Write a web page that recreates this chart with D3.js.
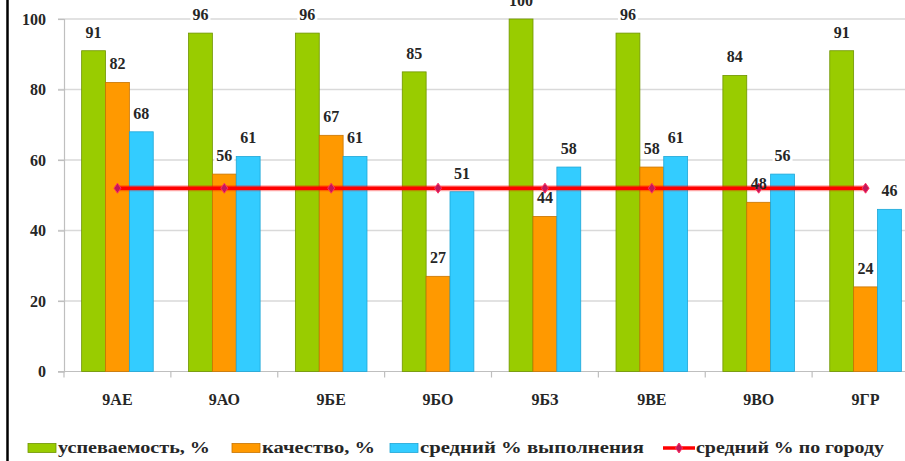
<!DOCTYPE html>
<html><head><meta charset="utf-8">
<script src="https://cdn.jsdelivr.net/npm/d3@7/dist/d3.min.js"></script>
<style>
html,body{margin:0;padding:0;background:#fff;}
svg{display:block;}
svg text{font-family:"Liberation Serif","Times New Roman","DejaVu Serif",serif;font-weight:bold;fill:#262626;}
</style></head>
<body>
<svg id="chart" width="905" height="461"></svg>
<script>
const categories = ["9АЕ","9АО","9БЕ","9БО","9БЗ","9ВЕ","9ВО","9ГР"];
const seriesNames = ["успеваемость, %","качество, %","средний % выполнения","средний % по городу"];
const uspevaemost = [91,96,96,85,100,96,84,91];
const kachestvo = [82,56,67,27,44,58,48,24];
const vypolnenie = [68,61,61,51,58,61,56,46];
const gorod = [52,52,52,52,52,52,52,52];
const yTicks = [0,20,40,60,80,100];

const colors = ["#99cc00","#ff9900","#33ccff","#ff0000"];
const strokes = ["#6f9400","#c87400","#1ea6d6"];
const FONT = "'Liberation Serif','Times New Roman','DejaVu Serif',serif";

const svg = d3.select("#chart");
const W = 905, H = 461;
svg.append("rect").attr("width",W).attr("height",H).attr("fill","#fff");

const x0 = d3.scaleBand().domain(categories).range([64, 919]).paddingInner(0.33).paddingOuter(0.165);
const barSeries = [uspevaemost, kachestvo, vypolnenie];
const x1 = d3.scaleBand().domain([0,1,2]).range([0, x0.bandwidth()]);
const y = d3.scaleLinear().domain([0,100]).range([371.5, 19]);
const step = x0.step();

// gridlines
svg.append("g").selectAll("line").data(yTicks.filter(t=>t>0)).join("line")
  .attr("x1",58).attr("x2",919).attr("y1",d=>y(d)).attr("y2",d=>y(d))
  .attr("stroke","#d9d9d9").attr("stroke-width",1.5);

// y axis
const yAxis = d3.axisLeft(y).tickValues(yTicks).tickSize(6).tickPadding(12).tickFormat(d3.format("d"));
const ya = svg.append("g").attr("transform","translate(64,0)").call(yAxis)
  .attr("font-family",FONT).attr("font-size",16);
ya.select(".domain").attr("stroke","#bfbfbf").attr("stroke-width",1.2);
ya.selectAll(".tick line").attr("stroke","#bfbfbf").attr("stroke-width",1.2);
ya.selectAll(".tick text").attr("fill","#262626").attr("font-weight","bold");

// x axis
const xAxis = d3.axisBottom(x0).tickSize(0).tickPadding(22);
const xa = svg.append("g").attr("transform",`translate(0,${y(0)})`).call(xAxis)
  .attr("font-family",FONT).attr("font-size",16);
xa.select(".domain").attr("stroke","#bfbfbf").attr("stroke-width",1.2).attr("d","M58,0H919");
xa.selectAll(".tick text").attr("fill","#262626").attr("font-weight","bold");
svg.append("g").selectAll("line").data(d3.range(categories.length+1)).join("line")
  .attr("x1",i=>64+i*step).attr("x2",i=>64+i*step)
  .attr("y1",y(0)).attr("y2",y(0)+6).attr("stroke","#bfbfbf").attr("stroke-width",1.2);

// bars
barSeries.forEach((vals,si)=>{
  svg.append("g").selectAll("rect").data(vals).join("rect")
    .attr("x",(d,i)=>x0(categories[i])+x1(si))
    .attr("width",x1.bandwidth())
    .attr("y",d=>y(d)).attr("height",d=>y(0)-y(d))
    .attr("fill",colors[si]).attr("stroke",strokes[si]).attr("stroke-width",0.8);
});

// label backgrounds
const labels = [];
barSeries.forEach((vals,si)=>{
  vals.forEach((d,i)=>{
    labels.push({v:d, cx:x0(categories[i])+x1(si)+x1.bandwidth()/2, cy:y(d)-19});
  });
});
svg.append("g").selectAll("rect").data(labels).join("rect")
  .attr("x",d=>d.cx-10).attr("y",d=>d.cy-8).attr("width",20).attr("height",16)
  .attr("fill","#fff");

// city line
const cx = (d,i)=>x0(categories[i])+x0.bandwidth()/2;
const line = d3.line().x(cx).y(d=>y(d));
svg.append("path").datum(gorod).attr("d",line).attr("fill","none")
  .attr("stroke","#ff0000").attr("stroke-width",6).attr("stroke-opacity",0.35);
svg.append("path").datum(gorod).attr("d",line).attr("fill","none")
  .attr("stroke","#ff0000").attr("stroke-width",3.5);
svg.append("g").selectAll("path").data(gorod).join("path")
  .attr("transform",(d,i)=>`translate(${cx(d,i)},${y(d)})`)
  .attr("d","M0,-5L3.5,0L0,5L-3.5,0Z")
  .attr("fill","#c0185a").attr("stroke","#ff3060").attr("stroke-width",1);

// label text
svg.append("g").selectAll("text").data(labels).join("text")
  .attr("x",d=>d.cx).attr("y",d=>d.cy+6).attr("text-anchor","middle")
  .attr("font-family",FONT).attr("font-weight","bold").attr("font-size",16).text(d=>d.v);

// legend
const lg = svg.append("g");
const legendX = [28, 232, 390, 663];
const legendW = [152, 113, 224, 188];
const ly = 448;
seriesNames.forEach((name,i)=>{
  const gx = legendX[i];
  let tx;
  if(i<3){
    lg.append("rect").attr("x",gx).attr("y",ly-4.5).attr("width",28).attr("height",9)
      .attr("fill",colors[i]).attr("stroke",strokes[i]).attr("stroke-width",0.8);
    tx = gx+30;
  } else {
    lg.append("line").attr("x1",gx).attr("x2",gx+32).attr("y1",ly).attr("y2",ly)
      .attr("stroke","#ff0000").attr("stroke-width",3.5);
    lg.append("path").attr("transform",`translate(${gx+16},${ly})`).attr("d","M0,-5L3.5,0L0,5L-3.5,0Z")
      .attr("fill","#c0185a").attr("stroke","#ff3060").attr("stroke-width",1);
    tx = gx+33;
  }
  lg.append("text").attr("x",tx).attr("y",ly+5).attr("font-family",FONT).attr("font-weight","bold")
    .attr("font-size",16.5).attr("textLength",legendW[i]).attr("lengthAdjust","spacingAndGlyphs").text(name);
});

// left border
svg.append("line").attr("x1",7.5).attr("x2",7.5).attr("y1",0).attr("y2",H)
  .attr("stroke","#000").attr("stroke-width",2.5);
</script>
</body></html>
